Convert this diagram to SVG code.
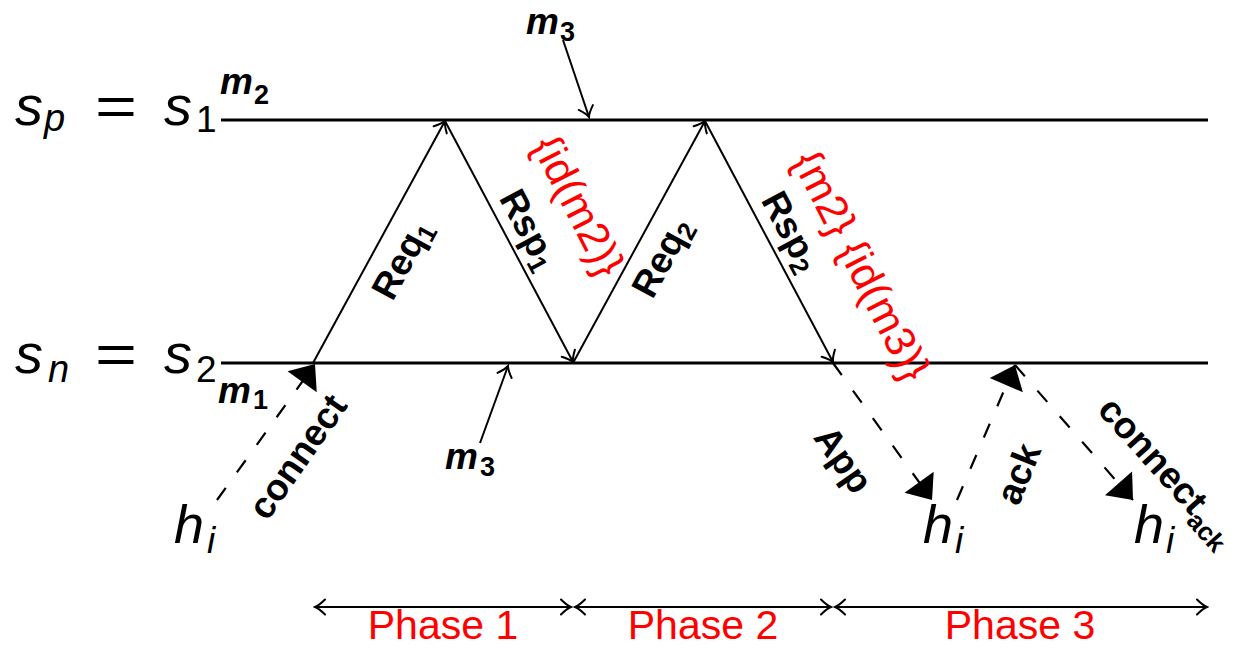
<svg xmlns="http://www.w3.org/2000/svg" width="1234" height="649" viewBox="0 0 1234 649">
<style>
.bg{fill:#fff}
.proc{stroke:#000;stroke-width:3;fill:none}
.msg{stroke:#000;stroke-width:2;fill:none}
.dash{stroke:#000;stroke-width:2.2;fill:none;stroke-dasharray:15 19}
.math{font-family:"Liberation Sans",Arial,sans-serif;font-style:italic;fill:#000}
.up{font-style:normal}
.mlab{font-family:"Liberation Sans",Arial,sans-serif;font-weight:bold;font-style:italic;font-size:37px;fill:#000}
.msub{font-style:normal;font-size:27px}
.lab{font-family:"Liberation Sans",Arial,sans-serif;font-weight:bold;font-size:37px;fill:#000}
.sub{font-size:26px}
.red{font-family:"Liberation Sans",Arial,sans-serif;font-size:43px;fill:#ff0000}
.phase{font-family:"Liberation Sans",Arial,sans-serif;font-size:41px;fill:#ff0000}
</style>
<defs>
<marker id="to" viewBox="-12 -9 14 18" refX="0" refY="0" markerWidth="14" markerHeight="18" markerUnits="userSpaceOnUse" orient="auto-start-reverse">
<path d="M-10,-7.5 Q-4,-1.5 0,0 Q-4,1.5 -10,7.5" fill="none" stroke="#000" stroke-width="2" stroke-linecap="round"/>
</marker>
<marker id="tri" viewBox="-24 -20 26 40" refX="0" refY="0" markerWidth="26" markerHeight="40" markerUnits="userSpaceOnUse" orient="auto">
<path d="M0,0 L-22,-18 L-22,18 Z" fill="#000"/>
</marker>
</defs>
<rect class="bg" x="0" y="0" width="1234" height="649"/>

<g id="sp">
<text class="math" font-size="56"><tspan x="15" y="125">s</tspan><tspan x="44" y="131" font-size="38">p</tspan><tspan class="up" x="95" y="125" textLength="42" lengthAdjust="spacingAndGlyphs">=</tspan><tspan x="164" y="125">s</tspan><tspan class="up" x="196" y="132" font-size="37">1</tspan></text>
<line class="proc" x1="221" y1="120" x2="1208" y2="120"/>
</g>
<g id="sn">
<text class="math" font-size="56"><tspan x="15" y="373">s</tspan><tspan x="48" y="382" font-size="38">n</tspan><tspan class="up" x="95" y="373" textLength="42" lengthAdjust="spacingAndGlyphs">=</tspan><tspan x="164" y="373">s</tspan><tspan class="up" x="196" y="382" font-size="37">2</tspan></text>
<line class="proc" x1="221" y1="363" x2="1208" y2="363"/>
</g>
<g id="hi1"><text class="math" font-size="54"><tspan x="174" y="543">h</tspan><tspan x="207" y="553" font-size="37">i</tspan></text></g>
<g id="hi2"><text class="math" font-size="54"><tspan x="923" y="543">h</tspan><tspan x="955" y="553" font-size="37">i</tspan></text></g>
<g id="hi3"><text class="math" font-size="54"><tspan x="1134" y="543">h</tspan><tspan x="1166" y="553" font-size="37">i</tspan></text></g>

<g id="m2"><text class="mlab"><tspan x="220" y="94">m</tspan><tspan class="msub" x="254" y="104">2</tspan></text></g>
<g id="m1"><text class="mlab"><tspan x="218" y="403">m</tspan><tspan class="msub" x="253" y="409">1</tspan></text></g>
<g id="m3top"><text class="mlab"><tspan x="526" y="34">m</tspan><tspan class="msub" x="560" y="41">3</tspan></text></g>
<g id="m3bot"><text class="mlab"><tspan x="445" y="469">m</tspan><tspan class="msub" x="480" y="476">3</tspan></text></g>

<g id="connectors">
<line class="msg" x1="313" y1="363" x2="445" y2="121" marker-end="url(#to)"/>
<line class="msg" x1="445" y1="121" x2="573" y2="362" marker-end="url(#to)"/>
<line class="msg" x1="573" y1="363" x2="705" y2="121" marker-end="url(#to)"/>
<line class="msg" x1="705" y1="121" x2="833" y2="362" marker-end="url(#to)"/>
<line class="msg" x1="563" y1="40" x2="589" y2="117" marker-end="url(#to)"/>
<line class="msg" x1="480" y1="443" x2="508" y2="366" marker-end="url(#to)"/>
<line class="dash" x1="217" y1="500" x2="315" y2="364" marker-end="url(#tri)"/>
<line class="dash" x1="833" y1="363" x2="932" y2="500" marker-end="url(#tri)"/>
<line class="dash" x1="957" y1="500" x2="1015" y2="365" marker-end="url(#tri)"/>
<line class="dash" x1="1015" y1="365" x2="1133" y2="500" marker-end="url(#tri)"/>
<line class="msg" x1="315" y1="607" x2="571" y2="607" marker-start="url(#to)" marker-end="url(#to)"/>
<line class="msg" x1="575" y1="607" x2="831" y2="607" marker-start="url(#to)" marker-end="url(#to)"/>
<line class="msg" x1="835" y1="607" x2="1207" y2="607" marker-start="url(#to)" marker-end="url(#to)"/>
</g>

<g id="labels">
<text class="lab" transform="translate(403 260) rotate(-61.5)" text-anchor="middle" y="11">Req<tspan class="sub" dy="6">1</tspan></text>
<text class="lab" transform="translate(528 230) rotate(62)" text-anchor="middle" y="11">Rsp<tspan class="sub" dy="6">1</tspan></text>
<text class="lab" transform="translate(663 258) rotate(-61.5)" text-anchor="middle" y="11">Req<tspan class="sub" dy="6">2</tspan></text>
<text class="lab" transform="translate(790 232) rotate(62)" text-anchor="middle" y="11">Rsp<tspan class="sub" dy="6">2</tspan></text>
<text class="lab" transform="translate(298 457) rotate(-55)" text-anchor="middle" y="12">connect</text>
<text class="lab" transform="translate(843 460) rotate(55)" text-anchor="middle" y="12">App</text>
<text class="lab" transform="translate(1019 474) rotate(-68)" text-anchor="middle" y="12">ack</text>
<text class="lab" transform="translate(1152 455) rotate(48)" x="-70" y="12">connect<tspan class="sub" dy="8">ack</tspan></text>
<text class="red" transform="translate(578 206) rotate(63)" text-anchor="middle" y="14">{id(m2)}</text>
<text class="red" transform="translate(861 266) rotate(63)" text-anchor="middle" y="14">{m2} {id(m3)}</text>
<text class="phase" x="443" y="639" text-anchor="middle">Phase 1</text>
<text class="phase" x="703" y="639" text-anchor="middle">Phase 2</text>
<text class="phase" x="1020" y="639" text-anchor="middle">Phase 3</text>
</g>
</svg>
